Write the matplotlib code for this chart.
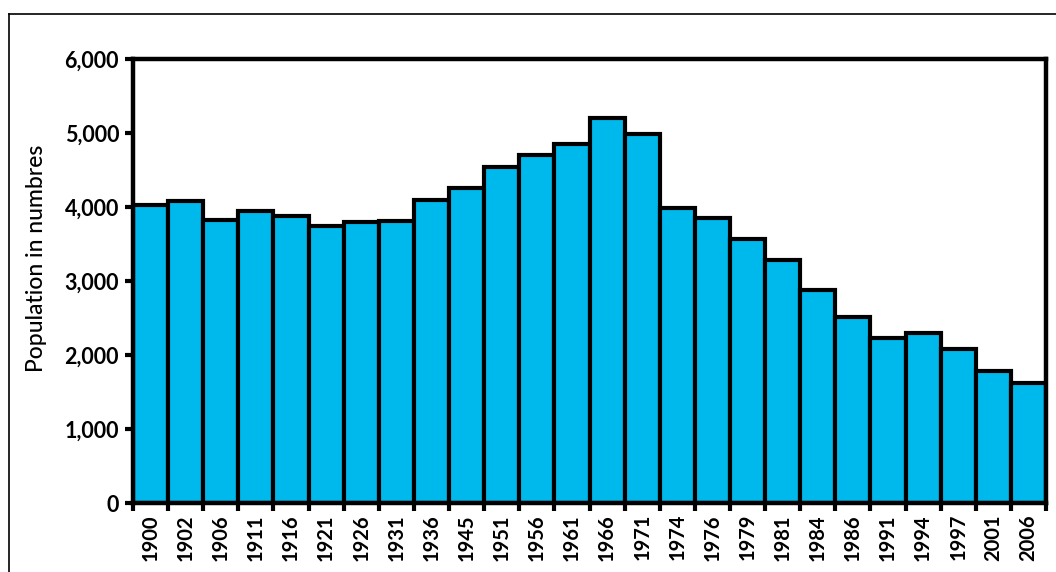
import matplotlib
matplotlib.use("Agg")
import matplotlib.pyplot as plt
from matplotlib.lines import Line2D
import numpy as np

years = ["1900", "1902", "1906", "1911", "1916", "1921", "1926", "1931", "1936",
         "1945", "1951", "1956", "1961", "1966", "1971", "1974", "1976", "1979",
         "1981", "1984", "1986", "1991", "1994", "1997", "2001", "2006"]
population = [4025, 4081, 3828, 3946, 3885, 3750, 3797, 3811, 4099,
              4257, 4545, 4707, 4855, 5205, 4990, 3993, 3847, 3572,
              3280, 2885, 2514, 2232, 2295, 2084, 1781, 1619]
y_ticks = [0, 1000, 2000, 3000, 4000, 5000, 6000]
y_ticklabels = ["0", "1,000", "2,000", "3,000", "4,000", "5,000", "6,000"]
y_label = "Population in numbres"

W, H, DPI = 1056, 572, 100
fig = plt.figure(figsize=(W / DPI, H / DPI), dpi=DPI)
fig.patch.set_facecolor("white")

# outer thin frame (top and left edges visible)
fig.add_artist(Line2D([9 / W, 1.0], [1 - 14 / H, 1 - 14 / H], color="black", lw=1.2,
                      transform=fig.transFigure))
fig.add_artist(Line2D([9 / W, 9 / W], [0, 1 - 14 / H], color="black", lw=1.2,
                      transform=fig.transFigure))

left, right, top, bottom = 133, 1046, 59, 503
ax = fig.add_axes([left / W, 1 - bottom / H, (right - left) / W, (bottom - top) / H])

x = np.arange(len(years))
ax.bar(x, population, width=1.0, color="#00B9EC", edgecolor="black", linewidth=3.0,
       zorder=2)

ax.set_xlim(-0.5, len(years) - 0.5)
ax.set_ylim(0, 6000)

for s in ax.spines.values():
    s.set_linewidth(3.2)
    s.set_color("black")
    s.set_zorder(3)

font = "Lato"
ax.set_yticks(y_ticks)
ax.set_yticklabels(y_ticklabels, fontsize=15.5, fontweight="bold", family=font)
ax.tick_params(axis="y", direction="out", length=6, width=3, pad=4)

ax.set_xticks(x)
ax.set_xticklabels(years, rotation=90, fontsize=14.5, fontweight="bold", family=font)
ax.tick_params(axis="x", which="major", length=0, pad=8)
ax.set_xticks(np.arange(len(years) + 1) - 0.5, minor=True)
ax.tick_params(axis="x", which="minor", direction="out", length=6, width=3)

ax.set_ylabel(y_label, fontsize=16.5, family=font, fontweight="medium")
ax.yaxis.set_label_coords((47 - left) / (right - left), (bottom - 258) / (bottom - top))

fig.savefig("out.png", dpi=DPI, facecolor="white")
